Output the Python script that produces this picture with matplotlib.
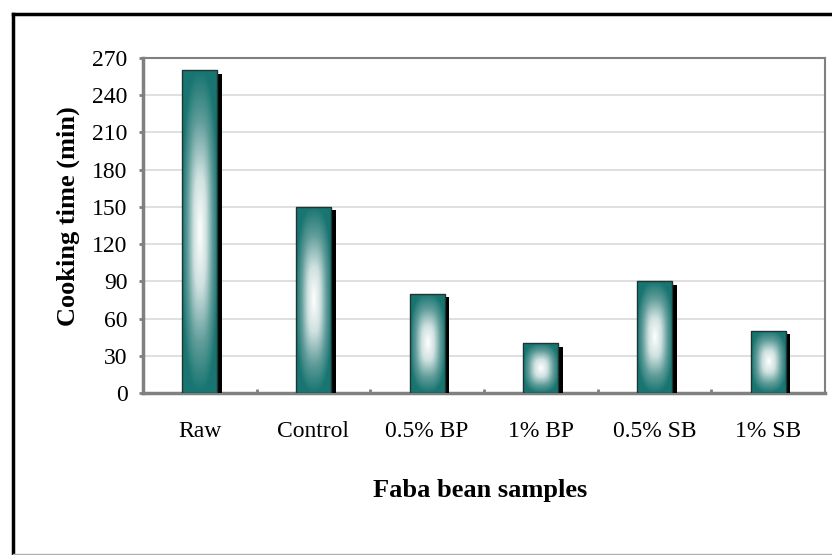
import numpy as np
import matplotlib
matplotlib.use("Agg")
import matplotlib.pyplot as plt
import matplotlib.patheffects as pe
from matplotlib.colors import LinearSegmentedColormap
from matplotlib.lines import Line2D

samples = ["Raw", "Control", "0.5% BP", "1% BP", "0.5% SB", "1% SB"]
cook_time = [260, 150, 80, 40, 90, 50]
yticks = list(range(0, 271, 30))

TEAL = "#187571"
GREY = "#808080"

plt.rcParams["font.family"] = ["Liberation Serif", "DejaVu Serif"]

fig = plt.figure(figsize=(8.32, 5.55), dpi=100)
ax = fig.add_axes([143 / 832, 1 - 393 / 555, 682 / 832, 335 / 555])

x = np.arange(len(samples))
width = 0.31

# base bars with drop shadow
bars = ax.bar(x, cook_time, width=width, color=TEAL, zorder=3,
              path_effects=[pe.SimplePatchShadow(offset=(3.3, -2.5), shadow_rgbFace="black", alpha=1.0),
                            pe.Normal()])

# "from centre" gradient fill (soft rectangle)
cmap = LinearSegmentedColormap.from_list(
    "tealgrad", [(0, "#ffffff"), (0.35, "#cfe1e0"), (0.7, "#5f9c99"), (1, TEAL)])
u = np.linspace(-1, 1, 150)
uu, vv = np.meshgrid(u, u)
grad = np.clip((np.abs(uu) ** 2.6 + np.abs(vv) ** 2.6) ** (1 / 2.6), 0, 1)
for b in bars:
    x0, w, h = b.get_x(), b.get_width(), b.get_height()
    im = ax.imshow(grad, cmap=cmap, vmin=0, vmax=1, extent=(x0, x0 + w, 0, h),
                   aspect="auto", interpolation="bilinear", zorder=4, origin="lower")
    im.set_clip_path(b)

# bar outlines
ax.bar(x, cook_time, width=width, facecolor="none", edgecolor="#1f3533", linewidth=1.0, zorder=5)

ax.set_xlim(-0.5, len(samples) - 0.5)
ax.set_ylim(0, 270)
ax.set_yticks(yticks)
ax.set_xticks(x)
ax.set_xticklabels(samples)
ax.set_xticks(np.arange(0.5, len(samples) - 0.5, 1), minor=True)

ax.tick_params(axis="y", direction="out", length=3, width=2, color=GREY, labelsize=17, pad=8)
ax.tick_params(axis="x", which="major", length=0, labelsize=17, pad=20)
ax.tick_params(axis="x", which="minor", direction="in", length=3, width=2, color=GREY)

ax.grid(axis="y", color="#d9d9d9", linewidth=1.2, zorder=0)
ax.set_axisbelow(True)

for side in ["left", "bottom"]:
    ax.spines[side].set_color(GREY)
    ax.spines[side].set_linewidth(2.5)
for side in ["top", "right"]:
    ax.spines[side].set_color(GREY)
    ax.spines[side].set_linewidth(1.5)

ax.set_ylabel("Cooking time (min)", fontsize=19, fontweight="bold", va="center", ha="center")
ax.yaxis.set_label_coords(-0.11, 0.528)
ax.set_xlabel("Faba bean samples", fontsize=19, fontweight="bold", va="center", ha="center")
ax.xaxis.set_label_coords(0.494, -0.2925)

# outer frame (cropped on right and bottom)
fig.add_artist(Line2D([13 / 832, 13 / 832], [0, 1 - 14 / 555], color="black", linewidth=2.5))
fig.add_artist(Line2D([13 / 832, 1], [1 - 14 / 555, 1 - 14 / 555], color="black", linewidth=2.5))
fig.add_artist(Line2D([13 / 832, 1], [1.5 / 555, 1.5 / 555], color="#b0b0b0", linewidth=1))

fig.savefig("out.png", dpi=100)
